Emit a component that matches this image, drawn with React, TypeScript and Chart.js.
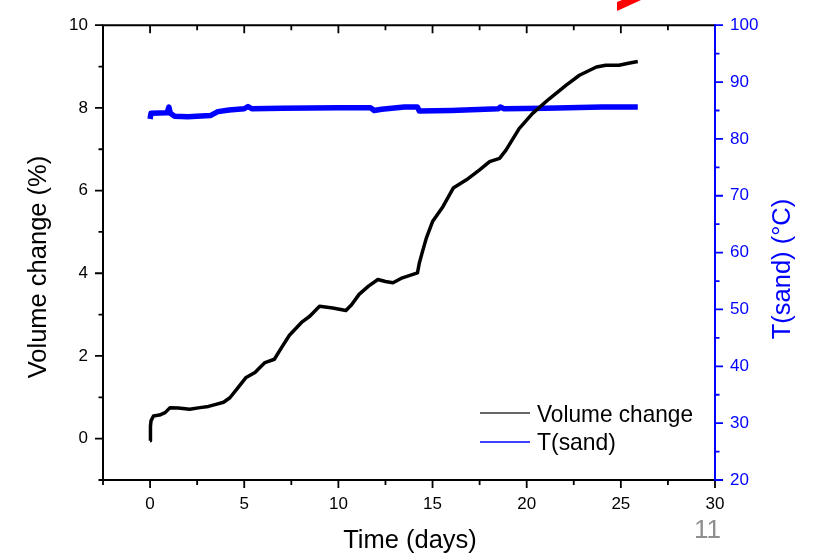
import React, { useEffect, useRef } from "react";
import { Chart, registerables } from "chart.js";

Chart.register(...registerables);

// Volume change (%) vs time (days)
const volumeDays = [0, 0.02, 0.05, 0.18, 0.5, 0.8, 1.06, 1.5, 2.1, 2.65, 3.1, 3.5, 3.9, 4.24, 4.68, 5.1, 5.57, 6.1, 6.6, 6.98, 7.4, 8.04, 8.48, 9.0, 9.7, 10.4, 10.7, 11.1, 11.6, 12.1, 12.5, 12.9, 13.4, 14.2, 14.3, 14.45, 14.67, 15.0, 15.55, 16.1, 16.8, 17.5, 18.03, 18.56, 18.9, 19.6, 20.3, 21.2, 22.1, 22.8, 23.7, 24.2, 24.9, 25.4, 25.9];
const volumeValues = [-0.05, 0.3, 0.43, 0.55, 0.57, 0.63, 0.75, 0.74, 0.71, 0.75, 0.78, 0.83, 0.88, 0.99, 1.24, 1.48, 1.6, 1.84, 1.92, 2.2, 2.5, 2.81, 2.96, 3.2, 3.16, 3.1, 3.24, 3.49, 3.69, 3.85, 3.8, 3.77, 3.89, 4.01, 4.25, 4.5, 4.85, 5.25, 5.61, 6.06, 6.26, 6.5, 6.7, 6.78, 6.98, 7.5, 7.86, 8.22, 8.55, 8.79, 8.99, 9.03, 9.03, 9.08, 9.12];

// T(sand) (°C) vs time (days)
const tempDays = [0, 0.05, 0.9, 1.0, 1.08, 1.3, 2.0, 3.2, 3.6, 4.2, 5.0, 5.2, 5.4, 7.0, 10.0, 11.7, 11.9, 12.3, 13.5, 14.2, 14.3, 16.0, 18.5, 18.6, 18.8, 21.0, 24.0, 25.9];
const tempValues = [83.5, 84.5, 84.6, 85.6, 84.5, 84.0, 83.9, 84.1, 84.8, 85.1, 85.3, 85.7, 85.3, 85.4, 85.5, 85.5, 85.0, 85.2, 85.6, 85.6, 84.9, 85.0, 85.3, 85.6, 85.3, 85.4, 85.6, 85.6];

const xTickValues = [0, 5, 10, 15, 20, 25, 30];
const yTickValues = [0, 2, 4, 6, 8, 10];
const y1TickValues = [20, 30, 40, 50, 60, 70, 80, 90, 100];

const xMinorValues = [-2.5, 2.5, 7.5, 12.5, 17.5, 22.5, 27.5];
const yMinorValues = [-1, 1, 3, 5, 7, 9];
const y1MinorValues = [25, 35, 45, 55, 65, 75, 85, 95];

const FONT = "'Liberation Sans', Arial, sans-serif";
const BLUE = "#0000ff";

const framePlugin = {
  id: "frame",
  afterDraw(chart: any) {
    const { ctx, chartArea } = chart;
    const { left, right, top, bottom } = chartArea;
    const xs = chart.scales.x;
    const ys = chart.scales.y;
    const y1 = chart.scales.y1;
    ctx.save();
    ctx.lineCap = "butt";
    // black frame (top, bottom, left)
    ctx.strokeStyle = "#000";
    ctx.lineWidth = 2;
    ctx.beginPath();
    ctx.moveTo(left, top);
    ctx.lineTo(right, top);
    ctx.moveTo(left, bottom);
    ctx.lineTo(right, bottom);
    ctx.moveTo(left, top - 1);
    ctx.lineTo(left, bottom + 1);
    ctx.stroke();
    ctx.lineWidth = 1.8;
    ctx.beginPath();
    // x ticks: bottom outward, top inward
    xTickValues.forEach((v) => {
      const p = xs.getPixelForValue(v);
      ctx.moveTo(p, bottom);
      ctx.lineTo(p, bottom + 8);
      ctx.moveTo(p, top);
      ctx.lineTo(p, top + 8);
    });
    xMinorValues.forEach((v) => {
      const p = xs.getPixelForValue(v);
      ctx.moveTo(p, bottom);
      ctx.lineTo(p, bottom + 5);
      ctx.moveTo(p, top);
      ctx.lineTo(p, top + 5);
    });
    // left ticks outward
    yTickValues.forEach((v) => {
      const p = ys.getPixelForValue(v);
      ctx.moveTo(left, p);
      ctx.lineTo(left - 8, p);
    });
    yMinorValues.forEach((v) => {
      const p = ys.getPixelForValue(v);
      ctx.moveTo(left, p);
      ctx.lineTo(left - 4.5, p);
    });
    ctx.stroke();
    // right blue axis
    ctx.strokeStyle = BLUE;
    ctx.lineWidth = 2;
    ctx.beginPath();
    ctx.moveTo(right, top - 1);
    ctx.lineTo(right, bottom + 1);
    ctx.stroke();
    ctx.lineWidth = 1.8;
    ctx.beginPath();
    y1TickValues.forEach((v) => {
      const p = y1.getPixelForValue(v);
      ctx.moveTo(right, p);
      ctx.lineTo(right + 8, p);
    });
    y1MinorValues.forEach((v) => {
      const p = y1.getPixelForValue(v);
      ctx.moveTo(right, p);
      ctx.lineTo(right + 4.5, p);
    });
    ctx.stroke();

    // axis titles
    ctx.font = `25.5px ${FONT}`;
    ctx.textBaseline = "alphabetic";
    ctx.textAlign = "center";
    ctx.fillStyle = "#000";
    ctx.fillText("Time (days)", (left + right) / 2 + 1, 548);
    ctx.save();
    ctx.translate(46, 267);
    ctx.rotate(-Math.PI / 2);
    ctx.fillText("Volume change (%)", 0, 0);
    ctx.restore();
    ctx.save();
    ctx.fillStyle = BLUE;
    ctx.translate(790, 269);
    ctx.rotate(-Math.PI / 2);
    ctx.fillText("T(sand) (°C)", 0, 0);
    ctx.restore();

    // legend
    ctx.lineWidth = 1.5;
    ctx.strokeStyle = "#333";
    ctx.beginPath();
    ctx.moveTo(480, 413);
    ctx.lineTo(530, 413);
    ctx.stroke();
    ctx.strokeStyle = BLUE;
    ctx.beginPath();
    ctx.moveTo(480, 442);
    ctx.lineTo(530, 442);
    ctx.stroke();
    ctx.font = `24px ${FONT}`;
    ctx.textAlign = "left";
    ctx.fillStyle = "#000";
    ctx.fillText("Volume change", 537, 422, 156);
    ctx.fillText("T(sand)", 537, 450, 79);

    // slide number
    ctx.font = `26px ${FONT}`;
    ctx.fillStyle = "#8f8f8f";
    ctx.textAlign = "right";
    ctx.fillText("11", 721, 538);

    // red arrow tip at top
    ctx.fillStyle = "#ff0000";
    ctx.beginPath();
    ctx.moveTo(617, 11);
    ctx.lineTo(617, 2);
    ctx.lineTo(622, 0);
    ctx.lineTo(641, 0);
    ctx.closePath();
    ctx.fill();
    ctx.restore();
  },
};

export default function App() {
  const canvasRef = useRef<HTMLCanvasElement | null>(null);

  useEffect(() => {
    const canvas = canvasRef.current;
    if (!canvas) return;
    const volumeData = volumeDays.map((d, i) => ({ x: d, y: volumeValues[i] }));
    const tempData = tempDays.map((d, i) => ({ x: d, y: tempValues[i] }));
    const chart = new Chart(canvas, {
      type: "line",
      data: {
        datasets: [
          {
            label: "Volume change",
            data: volumeData,
            borderColor: "#000",
            borderWidth: 3.5,
            pointRadius: 0,
            tension: 0,
            borderJoinStyle: "round",
            yAxisID: "y",
          },
          {
            label: "T(sand)",
            data: tempData,
            borderColor: BLUE,
            borderWidth: 5.5,
            pointRadius: 0,
            tension: 0,
            borderJoinStyle: "round",
            yAxisID: "y1",
          },
        ],
      },
      options: {
        responsive: false,
        animation: false,
        devicePixelRatio: 1,
        layout: { padding: { top: 24, left: 0, right: 0, bottom: 0 } },
        plugins: {
          legend: { display: false },
          tooltip: { enabled: false },
          title: { display: false },
        },
        scales: {
          x: {
            type: "linear",
            position: "bottom",
            min: -2.5,
            max: 30,
            grid: { display: false, drawTicks: false },
            border: { display: false },
            afterBuildTicks: (s: any) => {
              s.ticks = xTickValues.map((v) => ({ value: v }));
            },
            afterFit: (s: any) => {
              s.height = 75;
            },
            ticks: {
              padding: 14,
              color: "#000",
              font: { family: FONT, size: 17 },
              maxRotation: 0,
            },
          },
          y: {
            type: "linear",
            position: "left",
            min: -1,
            max: 10,
            grid: { display: false, drawTicks: false },
            border: { display: false },
            afterBuildTicks: (s: any) => {
              s.ticks = yTickValues.map((v) => ({ value: v }));
            },
            afterFit: (s: any) => {
              s.width = 103;
            },
            ticks: {
              padding: 15,
              color: "#000",
              font: { family: FONT, size: 17 },
            },
          },
          y1: {
            type: "linear",
            position: "right",
            min: 20,
            max: 100,
            grid: { display: false, drawTicks: false },
            border: { display: false },
            afterBuildTicks: (s: any) => {
              s.ticks = y1TickValues.map((v) => ({ value: v }));
            },
            afterFit: (s: any) => {
              s.width = 100;
            },
            ticks: {
              padding: 15,
              color: BLUE,
              font: { family: FONT, size: 17 },
            },
          },
        },
      },
      plugins: [framePlugin],
    });
    return () => chart.destroy();
  }, []);

  return (
    <div style={{ position: "absolute", left: 0, top: 0, width: 815, height: 555, background: "#fff" }}>
      <canvas ref={canvasRef} width={815} height={555} />
    </div>
  );
}
